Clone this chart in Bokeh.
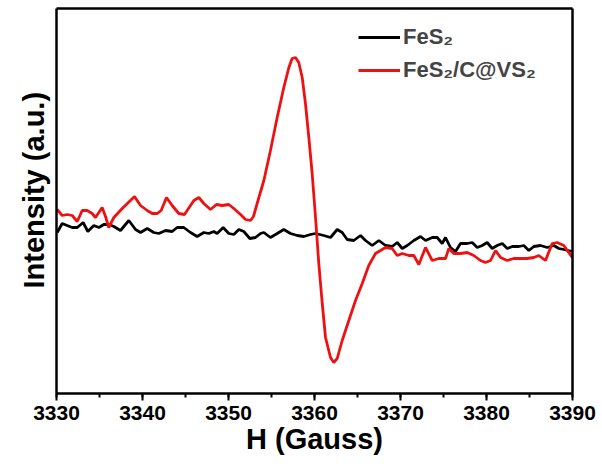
from bokeh.plotting import figure
from bokeh.models import (Range1d, SingleIntervalTicker, FixedTicker, LinearAxis,
                          Legend, LegendItem, Title)
from bokeh.embed import file_html
from bokeh.resources import INLINE

# ---- data ----
h_black = [3330.08, 3330.66, 3331.24, 3331.83, 3332.41, 3333.10, 3333.64, 3334.34, 3334.92,
           3335.50, 3336.08, 3336.67, 3337.44, 3338.41, 3339.19, 3339.77, 3340.55, 3341.31,
           3341.90, 3342.67, 3343.45, 3344.03, 3344.80, 3345.58, 3346.36, 3347.13, 3347.71,
           3348.29, 3348.68, 3349.38, 3350.03, 3350.62, 3351.20, 3351.78, 3352.48, 3353.14,
           3353.72, 3354.11, 3354.88, 3355.66, 3356.43, 3357.21, 3357.99, 3358.76, 3359.53,
           3360.12, 3361.08, 3361.86, 3362.64, 3363.22, 3363.80, 3364.57, 3365.35, 3365.93,
           3366.71, 3367.48, 3368.26, 3369.03, 3369.62, 3370.20, 3370.78, 3371.55, 3372.33,
           3372.91, 3373.69, 3374.27, 3374.85, 3375.23, 3375.81, 3376.40, 3376.98, 3377.76,
           3378.34, 3378.92, 3379.50, 3380.08, 3380.66, 3381.24, 3381.83, 3382.41, 3382.99,
           3383.76, 3384.34, 3384.92, 3385.50, 3386.28, 3387.06, 3387.83, 3388.41, 3388.99,
           3389.97]
i_black = [161, 170, 168, 166, 166, 171, 162, 168, 166,
           169, 169, 167, 163, 173, 164, 161, 165, 161,
           160, 163, 162, 166, 166, 161, 157, 161, 160,
           162, 160, 166, 160, 159, 164, 162, 155, 156,
           160, 161, 156, 160, 164, 160, 158, 157, 159,
           160, 158, 156, 164, 161, 154, 153, 158, 153,
           148, 153, 148, 147, 151, 145, 148, 153, 157,
           153, 156, 156, 150, 156, 146, 142, 150, 150,
           151, 146, 148, 151, 145, 148, 150, 145, 147,
           147, 148, 143, 147, 148, 146, 148, 145, 144,
           142]

h_red = [3330.08, 3330.66, 3331.24, 3331.83, 3332.41, 3332.99, 3333.57, 3334.15, 3334.53,
         3335.31, 3335.70, 3336.08, 3336.67, 3337.64, 3339.07, 3339.77, 3340.55, 3341.13,
         3341.71, 3342.17, 3342.79, 3343.45, 3344.22, 3344.88, 3345.97, 3346.55, 3347.13,
         3347.91, 3348.60, 3349.27, 3350.03, 3350.62, 3351.40, 3351.98, 3352.56, 3352.90,
         3353.33, 3354.11, 3354.88, 3355.66, 3356.43, 3357.02, 3357.40, 3357.79, 3358.17,
         3358.57, 3358.95, 3359.34, 3359.73, 3360.12, 3360.50, 3360.90, 3361.28, 3361.86,
         3362.24, 3362.64, 3363.22, 3363.99, 3364.77, 3365.55, 3366.31, 3367.09, 3368.26,
         3369.03, 3369.62, 3370.20, 3370.97, 3371.55, 3372.13, 3372.91, 3373.69, 3374.45,
         3375.23, 3375.62, 3376.20, 3376.98, 3377.76, 3378.52, 3379.30, 3379.88, 3380.47,
         3381.05, 3381.63, 3382.41, 3383.17, 3383.95, 3384.73, 3385.50, 3386.08, 3386.86,
         3387.64, 3388.22, 3388.99, 3389.97]
i_red = [184, 178, 179, 178, 172, 183, 183, 180, 176,
         186, 177, 166, 176, 185, 197, 188, 183, 180,
         180, 183, 196, 188, 180, 179, 193, 196, 190,
         184, 189, 188, 189, 185, 179, 174, 173, 177,
         190, 213, 243, 276, 306, 326, 335, 336, 331,
         316, 290, 256, 220, 176, 130, 90, 56, 36,
         31, 35, 53, 73, 93, 110, 128, 140, 146,
         145, 138, 140, 138, 138, 129, 146, 133, 135,
         135, 145, 140, 140, 141, 138, 133, 131, 133,
         143, 136, 133, 135, 135, 135, 136, 138, 133,
         150, 151, 148, 136]

x_ticks_interval = 10
x_min, x_max = 3330, 3390
y_min, y_max = 0, 385

labels = ["FeS\u2082", "FeS\u2082/C@VS\u2082"]
x_title = "H (Gauss)"
y_title = "Intensity (a.u.)"

FONT = "Liberation Sans"

p = figure(frame_width=516, frame_height=385, output_backend="svg", toolbar_location=None,
           x_range=Range1d(x_min, x_max), y_range=Range1d(y_min, y_max),
           min_border_left=56, min_border_top=8, min_border_right=28, min_border_bottom=10)
p.background_fill_color = "white"
p.border_fill_color = "white"
p.outline_line_color = None
p.xgrid.visible = False
p.ygrid.visible = False

ax = p.below[0]
ay = p.left[0]


def plain_axis(a):
    a.ticker = FixedTicker(ticks=[])
    a.major_label_text_font_size = "0px"
    a.axis_line_width = 2.5
    a.axis_line_color = "black"
    a.major_tick_line_color = None
    a.minor_tick_line_color = None


plain_axis(ay)
for side in ("right", "above"):
    extra = LinearAxis()
    plain_axis(extra)
    p.add_layout(extra, side)

ax.ticker = SingleIntervalTicker(interval=x_ticks_interval, num_minor_ticks=2)
ax.axis_line_width = 2.5
ax.major_tick_line_width = 2
ax.minor_tick_line_width = 2
ax.major_tick_in = 0
ax.major_tick_out = 7
ax.minor_tick_in = 0
ax.minor_tick_out = 4
ax.major_label_text_font = FONT
ax.major_label_text_font_style = "bold"
ax.major_label_text_font_size = "21px"
ax.major_label_text_color = "black"
ax.major_label_standoff = 5
ax.axis_label = x_title
ax.axis_label_text_font = FONT
ax.axis_label_text_font_style = "bold"
ax.axis_label_text_font_size = "29px"
ax.axis_label_text_color = "black"
ax.axis_label_standoff = 0

rb = p.line(h_black, i_black, line_color="black", line_width=2.8)
rr = p.line(h_red, i_red, line_color="#ee1111", line_width=2.8)

legend = Legend(items=[LegendItem(label=labels[0], renderers=[rb]),
                       LegendItem(label=labels[1], renderers=[rr])],
                location=(302, 308))
legend.label_text_font = FONT
legend.label_text_font_style = "bold"
legend.label_text_font_size = "22px"
legend.glyph_width = 42
legend.glyph_height = 30
legend.label_height = 30
legend.spacing = 3
legend.padding = 0
legend.margin = 0
legend.label_standoff = 3
legend.border_line_alpha = 0
legend.background_fill_alpha = 0
p.add_layout(legend)

ytitle = Title(text=y_title, align="left", offset=105, standoff=10, vertical_align="top",
               text_font=FONT, text_font_style="bold", text_font_size="29px",
               text_color="black")
p.add_layout(ytitle, "left")

open("out.html", "w").write(file_html(p, INLINE))
